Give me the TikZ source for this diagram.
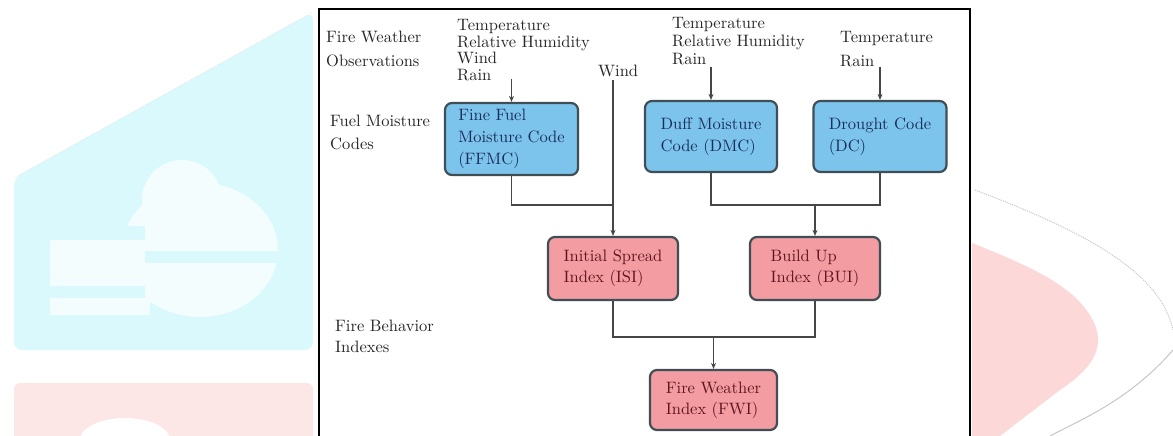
\documentclass[tikz,border=0pt]{standalone}
\usepackage{fontspec}
\setmainfont{lmroman10-regular}[Extension=.otf,BoldFont=lmroman10-bold]
\usetikzlibrary{arrows.meta}
\definecolor{fuelblue}{RGB}{124,196,236}
\definecolor{firepink}{RGB}{243,156,162}
\definecolor{boxedge}{RGB}{64,78,86}
\definecolor{bluetext}{RGB}{25,45,90}
\definecolor{redtext}{RGB}{95,20,30}
\definecolor{linegray}{RGB}{70,70,70}
\definecolor{wmcyan}{RGB}{218,249,253}
\definecolor{wmcloud}{RGB}{244,253,254}
\definecolor{wmpink}{RGB}{253,230,230}
\definecolor{wmpinkb}{RGB}{252,216,216}

\begin{document}
\begin{tikzpicture}[x=1pt,y=-1pt,
        codebox/.style={draw=boxedge,line width=2.2pt,rounded corners=7pt,fill=fuelblue,
            text=bluetext,align=left,inner sep=0pt,font=\fontsize{16.5}{22}\selectfont},
        indexbox/.style={codebox,fill=firepink,text=redtext,font=\fontsize{16.5}{21}\selectfont},
        lbl/.style={anchor=west,inner sep=0pt,align=left,text=black!85},
        conn/.style={draw=linegray,line width=1.8pt},
        arr/.style={conn,-{Stealth[length=6pt,width=5pt]}}]
    \useasboundingbox (0,0) rectangle (1173,436);

    % faded background
    \fill[wmcyan,rounded corners=8pt] (313,12) -- (14,178) -- (14,350) -- (313,350) -- cycle;
    \draw[gray!35,densely dotted] (313,12) -- (14,178);
    \fill[wmcloud] (50,226) rectangle (150,315);
    \fill[wmcloud] (200,250) ellipse (78 and 67);
    \fill[wmcloud] (182,200) circle (40);
    \fill[wmcyan] (50,226) rectangle (145,240);
    \fill[wmcyan] (145,251) rectangle (280,263);
    \fill[wmcyan] (50,286) rectangle (145,298);
    \fill[wmpink,rounded corners=6pt] (14,383) rectangle (313,445);
    \fill[white] (125,440) ellipse (45 and 22);
    \fill[wmpinkb] (972,243) .. controls (1040,270) and (1080,290) .. (1095,325)
        .. controls (1105,350) and (1090,370) .. (1060,390) -- (1000,436) -- (972,436) -- cycle;
    \draw[gray!45,densely dotted,line width=1pt] (975,190) .. controls (1080,230) and (1160,270) .. (1173,330);
    \draw[gray!45,line width=1pt] (1173,350) .. controls (1130,400) and (1080,420) .. (1050,436);

    % frame
    \draw[black,line width=1.5pt,fill=white] (319,9) rectangle (970,445);

    % row labels and inputs
    \node[lbl,font=\fontsize{16.5}{24}\selectfont] (obs) at (326,49) {Fire Weather\\Observations};
    \node[lbl,font=\fontsize{16.5}{16.7}\selectfont] (wxa) at (457,50) {Temperature\\Relative Humidity\\Wind\\Rain};
    \node[lbl,font=\fontsize{16.5}{18}\selectfont] (windlbl) at (598,71) {Wind};
    \node[lbl,font=\fontsize{16.5}{18}\selectfont] (wxb) at (672,41) {Temperature\\Relative Humidity\\Rain};
    \node[lbl,font=\fontsize{16.5}{24}\selectfont] (wxc) at (840,49) {Temperature\\Rain};
    \node[lbl,font=\fontsize{16.5}{23}\selectfont] (fmc) at (330,132) {Fuel Moisture\\Codes};
    \node[lbl,font=\fontsize{16.5}{21}\selectfont] (fbi) at (335,336) {Fire Behavior\\Indexes};

    % codes
    \node[codebox,minimum width=133pt,minimum height=72pt] (ffmc) at (511.5,139) {Fine Fuel\\Moisture Code\\(FFMC)};
    \node[codebox,minimum width=132pt,minimum height=71pt] (dmc) at (711,136.5) {Duff Moisture\\Code (DMC)};
    \node[codebox,minimum width=133pt,minimum height=71pt] (dc) at (880,136.5) {Drought Code\\(DC)};

    % indexes
    \node[indexbox,minimum width=130pt,minimum height=63pt] (isi) at (613,268.5) {Initial Spread\\Index (ISI)};
    \node[indexbox,minimum width=130pt,minimum height=63pt] (bui) at (815,268.5) {Build Up\\Index (BUI)};
    \node[indexbox,minimum width=127pt,minimum height=60pt] (fwi) at (713.5,400) {Fire Weather\\Index (FWI)};

    \coordinate (ffmcin) at (511.5,79);
    \coordinate (windin) at (613,80);
    \coordinate (dmcin) at (711,67);
    \coordinate (dcin) at (880,67);
    \coordinate (upjoin) at (0,205);
    \coordinate (lowjoin) at (0,337);

    \draw[arr] (ffmcin) -- (ffmc.north);
    \draw[arr] (windin) -- (windin |- isi.north);
    \draw[conn] (ffmc.south) |- (windin |- upjoin);
    \draw[arr] (dmcin) -- (dmc.north);
    \draw[arr] (dcin) -- (dc.north);
    \draw[conn] (dmc.south) |- (dc.south |- upjoin) -- (dc.south);
    \draw[arr] (bui.north |- upjoin) -- (bui.north);
    \draw[conn] (isi.south) |- (bui.south |- lowjoin) -- (bui.south);
    \draw[arr] (fwi.north |- lowjoin) -- (fwi.north);
\end{tikzpicture}
\end{document}
